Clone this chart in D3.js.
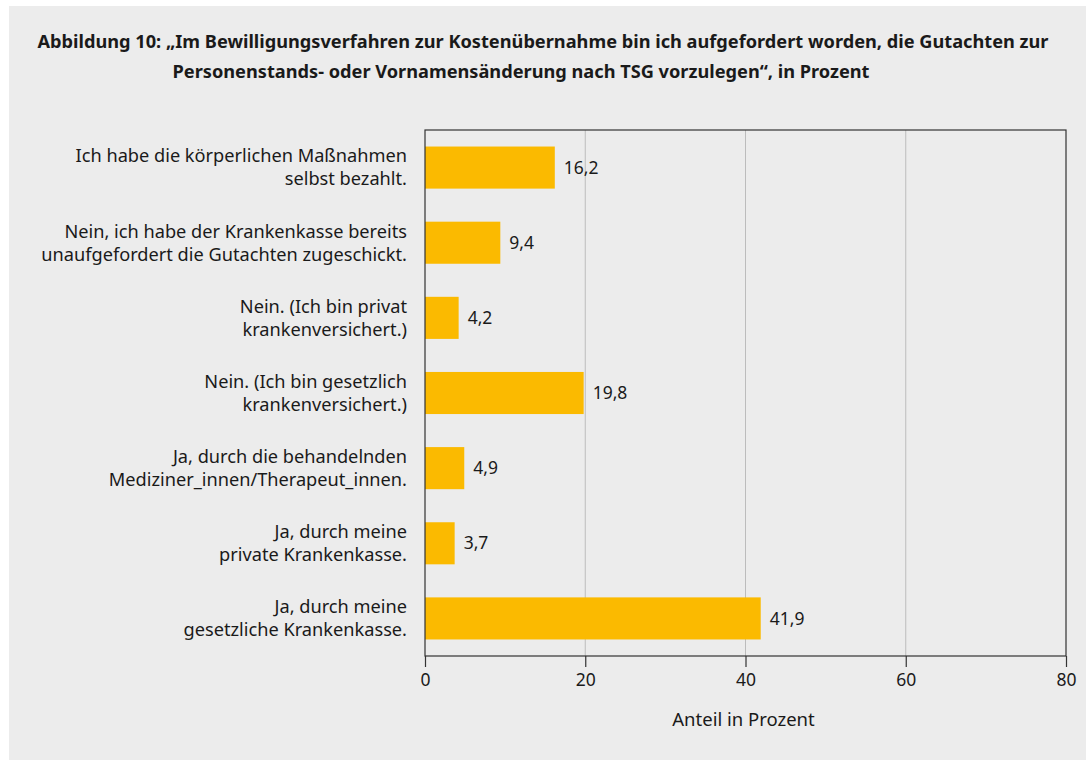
<!DOCTYPE html>
<html>
<head>
<meta charset="utf-8">
<script src="https://cdn.jsdelivr.net/npm/d3@7"></script>
<style>
  html, body { margin: 0; padding: 0; background: #fff; }
  svg { display: block; }
  text { font-family: "Noto Sans", "Open Sans", sans-serif; fill: #1a1a1a; }
</style>
</head>
<body>
<div id="chart"></div>
<script>
'use strict';

// answers, top to bottom (each entry = lines of the label)
var categories = [
  ['Ich habe die körperlichen Maßnahmen', 'selbst bezahlt.'],
  ['Nein, ich habe der Krankenkasse bereits', 'unaufgefordert die Gutachten zugeschickt.'],
  ['Nein. (Ich bin privat', 'krankenversichert.)'],
  ['Nein. (Ich bin gesetzlich', 'krankenversichert.)'],
  ['Ja, durch die behandelnden', 'Mediziner_innen/Therapeut_innen.'],
  ['Ja, durch meine', 'private Krankenkasse.'],
  ['Ja, durch meine', 'gesetzliche Krankenkasse.']
];
var values = [16.2, 9.4, 4.2, 19.8, 4.9, 3.7, 41.9];
var xTicks = [0, 20, 40, 60, 80];
var titleLines = [
  'Abbildung 10: \u201eIm Bewilligungsverfahren zur Kosten\u00fcbernahme bin ich aufgefordert worden, die Gutachten zur',
  'Personenstands- oder Vornamens\u00e4nderung nach TSG vorzulegen\u201c, in Prozent'
];
var xTitle = 'Anteil in Prozent';

var W = 1086, H = 760;
var plot = { left: 425, right: 1066, top: 130, bottom: 656 };

var svg = d3.select('#chart').append('svg')
  .attr('width', W).attr('height', H);

// grey panel
svg.append('rect')
  .attr('x', 9).attr('y', 6)
  .attr('width', W - 9).attr('height', H - 6)
  .attr('fill', '#ececec');

// title (2nd line sits a bit left of centre in the original)
var titleX = [543, 521];
svg.append('g').selectAll('text')
  .data(titleLines)
  .join('text')
  .attr('x', function (d, i) { return titleX[i]; })
  .attr('y', function (d, i) { return 48 + i * 30; })
  .attr('text-anchor', 'middle')
  .style('font-weight', 700)
  .style('font-size', '18.2px')
  .text(function (d) { return d; });

var x = d3.scaleLinear().domain([0, 80]).range([plot.left, plot.right]);
var y = d3.scaleBand()
  .domain(d3.range(categories.length))
  .range([plot.top, plot.bottom])
  .paddingInner(0.44)
  .paddingOuter(0.22);

// gridlines
svg.append('g').selectAll('line')
  .data(xTicks.slice(1, -1))
  .join('line')
  .attr('x1', function (d) { return x(d); })
  .attr('x2', function (d) { return x(d); })
  .attr('y1', plot.top).attr('y2', plot.bottom)
  .attr('stroke', '#bcbcbc').attr('stroke-width', 1);

// bars
svg.append('g').selectAll('rect')
  .data(values)
  .join('rect')
  .attr('x', x(0))
  .attr('y', function (d, i) { return y(i); })
  .attr('width', function (d) { return x(d) - x(0); })
  .attr('height', y.bandwidth())
  .attr('fill', '#fbba00');

// value labels
svg.append('g').selectAll('text')
  .data(values)
  .join('text')
  .attr('x', function (d) { return x(d) + 9; })
  .attr('y', function (d, i) { return y(i) + y.bandwidth() / 2; })
  .attr('dy', '0.35em')
  .style('font-size', '17.5px')
  .text(function (d) { return d3.format('.1f')(d).replace('.', ','); });

// frame
svg.append('rect')
  .attr('x', plot.left).attr('y', plot.top)
  .attr('width', plot.right - plot.left).attr('height', plot.bottom - plot.top)
  .attr('fill', 'none').attr('stroke', '#333').attr('stroke-width', 1.2);

// x axis
var xAxis = svg.append('g')
  .attr('transform', 'translate(0,' + plot.bottom + ')')
  .call(d3.axisBottom(x).tickValues(xTicks).tickSize(11).tickPadding(7));
xAxis.select('.domain').remove();
xAxis.selectAll('.tick line').attr('stroke', '#333').attr('stroke-width', 1.2);
xAxis.selectAll('.tick text')
  .style('font-family', '"Noto Sans", sans-serif')
  .style('font-size', '17.5px').attr('fill', '#1a1a1a');

svg.append('text')
  .attr('x', (plot.left + plot.right) / 2 - 2)
  .attr('y', 726)
  .attr('text-anchor', 'middle')
  .style('font-size', '18.5px')
  .text(xTitle);

// category labels
var labels = svg.append('g').selectAll('text')
  .data(categories)
  .join('text')
  .attr('text-anchor', 'end')
  .attr('transform', function (d, i) {
    return 'translate(407,' + (y(i) + y.bandwidth() / 2) + ')';
  })
  .style('font-size', '18.2px');
labels.selectAll('tspan')
  .data(function (d) { return d; })
  .join('tspan')
  .attr('x', 0)
  .attr('y', function (d, j) { return (j - 0.5) * 23; })
  .attr('dy', '0.35em')
  .text(function (d) { return d; });
</script>
</body>
</html>
